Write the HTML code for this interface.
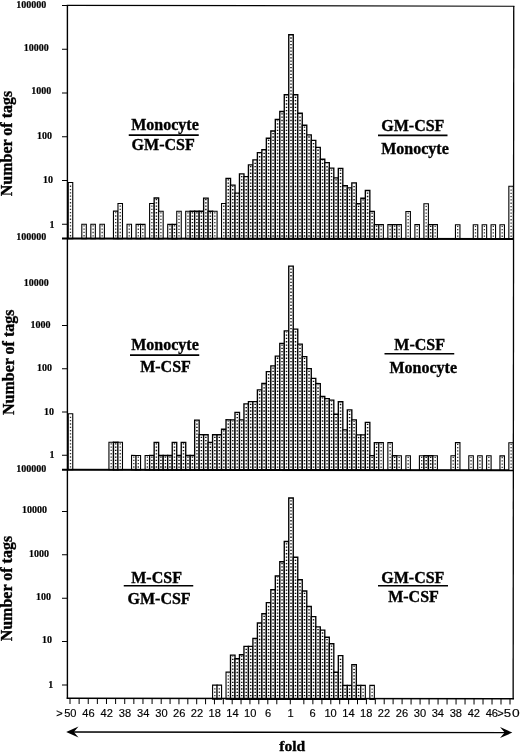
<!DOCTYPE html>
<html><head><meta charset="utf-8"><title>Figure</title>
<style>
html,body{margin:0;padding:0;background:#fff;}
body{width:520px;height:752px;position:relative;overflow:hidden;font-family:"Liberation Serif",serif;}
</style></head><body>
<svg width="520" height="752" viewBox="0 0 520 752" style="position:absolute;left:0;top:0;will-change:transform;opacity:0.999">
<rect x="0" y="0" width="520" height="752" fill="#fff"/>
<g transform="matrix(1,0.0011,0,1,0,-0.07)">
<rect x="68.25" y="182.50" width="4.500" height="56.10" fill="#fff" stroke="#000" stroke-width="1.1"/>
<line x1="70.50" y1="236.40" x2="70.50" y2="183.50" stroke="#333" stroke-width="1.3" stroke-dasharray="1.3 2.0"/>
<rect x="81.81" y="224.25" width="4.500" height="14.35" fill="#fff" stroke="#000" stroke-width="1.1"/>
<line x1="84.06" y1="236.40" x2="84.06" y2="225.25" stroke="#333" stroke-width="1.3" stroke-dasharray="1.3 2.0"/>
<rect x="90.85" y="224.25" width="4.500" height="14.35" fill="#fff" stroke="#000" stroke-width="1.1"/>
<line x1="93.10" y1="236.40" x2="93.10" y2="225.25" stroke="#333" stroke-width="1.3" stroke-dasharray="1.3 2.0"/>
<rect x="99.90" y="224.25" width="4.500" height="14.35" fill="#fff" stroke="#000" stroke-width="1.1"/>
<line x1="102.15" y1="236.40" x2="102.15" y2="225.25" stroke="#333" stroke-width="1.3" stroke-dasharray="1.3 2.0"/>
<rect x="113.46" y="211.08" width="4.500" height="27.52" fill="#fff" stroke="#000" stroke-width="1.1"/>
<line x1="115.71" y1="236.40" x2="115.71" y2="212.08" stroke="#333" stroke-width="1.3" stroke-dasharray="1.3 2.0"/>
<rect x="117.98" y="203.38" width="4.500" height="35.22" fill="#fff" stroke="#000" stroke-width="1.1"/>
<line x1="120.23" y1="236.40" x2="120.23" y2="204.38" stroke="#333" stroke-width="1.3" stroke-dasharray="1.3 2.0"/>
<rect x="127.02" y="224.25" width="4.500" height="14.35" fill="#fff" stroke="#000" stroke-width="1.1"/>
<line x1="129.27" y1="236.40" x2="129.27" y2="225.25" stroke="#333" stroke-width="1.3" stroke-dasharray="1.3 2.0"/>
<rect x="136.06" y="224.25" width="4.500" height="14.35" fill="#fff" stroke="#000" stroke-width="1.1"/>
<line x1="138.31" y1="236.40" x2="138.31" y2="225.25" stroke="#333" stroke-width="1.3" stroke-dasharray="1.3 2.0"/>
<rect x="140.58" y="224.25" width="4.500" height="14.35" fill="#fff" stroke="#000" stroke-width="1.1"/>
<line x1="142.83" y1="236.40" x2="142.83" y2="225.25" stroke="#333" stroke-width="1.3" stroke-dasharray="1.3 2.0"/>
<rect x="149.62" y="203.38" width="4.500" height="35.22" fill="#fff" stroke="#000" stroke-width="1.1"/>
<line x1="151.88" y1="236.40" x2="151.88" y2="204.38" stroke="#333" stroke-width="1.3" stroke-dasharray="1.3 2.0"/>
<rect x="154.15" y="197.91" width="4.500" height="40.69" fill="#fff" stroke="#000" stroke-width="1.35"/>
<line x1="156.40" y1="236.40" x2="156.40" y2="198.91" stroke="#111" stroke-width="1.5" stroke-dasharray="1.3 2.0"/>
<rect x="158.67" y="211.08" width="4.500" height="27.52" fill="#fff" stroke="#000" stroke-width="1.1"/>
<line x1="160.92" y1="236.40" x2="160.92" y2="212.08" stroke="#333" stroke-width="1.3" stroke-dasharray="1.3 2.0"/>
<rect x="167.71" y="224.25" width="4.500" height="14.35" fill="#fff" stroke="#000" stroke-width="1.1"/>
<line x1="169.96" y1="236.40" x2="169.96" y2="225.25" stroke="#333" stroke-width="1.3" stroke-dasharray="1.3 2.0"/>
<rect x="172.23" y="224.25" width="4.500" height="14.35" fill="#fff" stroke="#000" stroke-width="1.35"/>
<line x1="174.48" y1="236.40" x2="174.48" y2="225.25" stroke="#111" stroke-width="1.5" stroke-dasharray="1.3 2.0"/>
<rect x="176.75" y="211.08" width="4.500" height="27.52" fill="#fff" stroke="#000" stroke-width="1.1"/>
<line x1="179.00" y1="236.40" x2="179.00" y2="212.08" stroke="#333" stroke-width="1.3" stroke-dasharray="1.3 2.0"/>
<rect x="185.71" y="211.08" width="4.500" height="27.52" fill="#fff" stroke="#000" stroke-width="1.1"/>
<line x1="187.96" y1="236.40" x2="187.96" y2="212.08" stroke="#333" stroke-width="1.3" stroke-dasharray="1.3 2.0"/>
<rect x="190.19" y="211.08" width="4.500" height="27.52" fill="#fff" stroke="#000" stroke-width="1.35"/>
<line x1="192.44" y1="236.40" x2="192.44" y2="212.08" stroke="#111" stroke-width="1.5" stroke-dasharray="1.3 2.0"/>
<rect x="194.67" y="211.08" width="4.500" height="27.52" fill="#fff" stroke="#000" stroke-width="1.35"/>
<line x1="196.92" y1="236.40" x2="196.92" y2="212.08" stroke="#111" stroke-width="1.5" stroke-dasharray="1.3 2.0"/>
<rect x="199.15" y="211.08" width="4.500" height="27.52" fill="#fff" stroke="#000" stroke-width="1.35"/>
<line x1="201.40" y1="236.40" x2="201.40" y2="212.08" stroke="#111" stroke-width="1.5" stroke-dasharray="1.3 2.0"/>
<rect x="203.63" y="197.91" width="4.500" height="40.69" fill="#fff" stroke="#000" stroke-width="1.35"/>
<line x1="205.88" y1="236.40" x2="205.88" y2="198.91" stroke="#111" stroke-width="1.5" stroke-dasharray="1.3 2.0"/>
<rect x="208.11" y="211.08" width="4.500" height="27.52" fill="#fff" stroke="#000" stroke-width="1.35"/>
<line x1="210.36" y1="236.40" x2="210.36" y2="212.08" stroke="#111" stroke-width="1.5" stroke-dasharray="1.3 2.0"/>
<rect x="212.59" y="211.08" width="4.500" height="27.52" fill="#fff" stroke="#000" stroke-width="1.1"/>
<line x1="214.84" y1="236.40" x2="214.84" y2="212.08" stroke="#333" stroke-width="1.3" stroke-dasharray="1.3 2.0"/>
<rect x="221.55" y="203.38" width="4.500" height="35.22" fill="#fff" stroke="#000" stroke-width="1.1"/>
<line x1="223.80" y1="236.40" x2="223.80" y2="204.38" stroke="#333" stroke-width="1.3" stroke-dasharray="1.3 2.0"/>
<rect x="226.03" y="178.18" width="4.500" height="60.42" fill="#fff" stroke="#000" stroke-width="1.35"/>
<line x1="228.28" y1="236.40" x2="228.28" y2="179.18" stroke="#111" stroke-width="1.5" stroke-dasharray="1.3 2.0"/>
<rect x="230.51" y="184.98" width="4.500" height="53.62" fill="#fff" stroke="#000" stroke-width="1.35"/>
<line x1="232.76" y1="236.40" x2="232.76" y2="185.98" stroke="#111" stroke-width="1.5" stroke-dasharray="1.3 2.0"/>
<rect x="234.99" y="192.92" width="4.500" height="45.68" fill="#fff" stroke="#000" stroke-width="1.35"/>
<line x1="237.24" y1="236.40" x2="237.24" y2="193.92" stroke="#111" stroke-width="1.5" stroke-dasharray="1.3 2.0"/>
<rect x="239.47" y="173.70" width="4.500" height="64.90" fill="#fff" stroke="#000" stroke-width="1.35"/>
<line x1="241.72" y1="236.40" x2="241.72" y2="174.70" stroke="#111" stroke-width="1.5" stroke-dasharray="1.3 2.0"/>
<rect x="243.95" y="176.41" width="4.500" height="62.19" fill="#fff" stroke="#000" stroke-width="1.35"/>
<line x1="246.20" y1="236.40" x2="246.20" y2="177.41" stroke="#111" stroke-width="1.5" stroke-dasharray="1.3 2.0"/>
<rect x="248.43" y="164.67" width="4.500" height="73.93" fill="#fff" stroke="#000" stroke-width="1.35"/>
<line x1="250.68" y1="236.40" x2="250.68" y2="165.67" stroke="#111" stroke-width="1.5" stroke-dasharray="1.3 2.0"/>
<rect x="252.91" y="159.63" width="4.500" height="78.97" fill="#fff" stroke="#000" stroke-width="1.35"/>
<line x1="255.16" y1="236.40" x2="255.16" y2="160.63" stroke="#111" stroke-width="1.5" stroke-dasharray="1.3 2.0"/>
<rect x="257.39" y="152.48" width="4.500" height="86.12" fill="#fff" stroke="#000" stroke-width="1.35"/>
<line x1="259.64" y1="236.40" x2="259.64" y2="153.48" stroke="#111" stroke-width="1.5" stroke-dasharray="1.3 2.0"/>
<rect x="261.87" y="149.54" width="4.500" height="89.06" fill="#fff" stroke="#000" stroke-width="1.35"/>
<line x1="264.12" y1="236.40" x2="264.12" y2="150.54" stroke="#111" stroke-width="1.5" stroke-dasharray="1.3 2.0"/>
<rect x="266.35" y="138.03" width="4.500" height="100.57" fill="#fff" stroke="#000" stroke-width="1.35"/>
<line x1="268.60" y1="236.40" x2="268.60" y2="139.03" stroke="#111" stroke-width="1.5" stroke-dasharray="1.3 2.0"/>
<rect x="270.83" y="130.77" width="4.500" height="107.83" fill="#fff" stroke="#000" stroke-width="1.35"/>
<line x1="273.08" y1="236.40" x2="273.08" y2="131.77" stroke="#111" stroke-width="1.5" stroke-dasharray="1.3 2.0"/>
<rect x="275.31" y="119.26" width="4.500" height="119.34" fill="#fff" stroke="#000" stroke-width="1.35"/>
<line x1="277.56" y1="236.40" x2="277.56" y2="120.26" stroke="#111" stroke-width="1.5" stroke-dasharray="1.3 2.0"/>
<rect x="279.79" y="111.28" width="4.500" height="127.32" fill="#fff" stroke="#000" stroke-width="1.35"/>
<line x1="282.04" y1="236.40" x2="282.04" y2="112.28" stroke="#111" stroke-width="1.5" stroke-dasharray="1.3 2.0"/>
<rect x="284.27" y="94.52" width="4.500" height="144.08" fill="#fff" stroke="#000" stroke-width="1.35"/>
<line x1="286.52" y1="236.40" x2="286.52" y2="95.52" stroke="#111" stroke-width="1.5" stroke-dasharray="1.3 2.0"/>
<rect x="288.75" y="34.53" width="4.500" height="204.07" fill="#fff" stroke="#000" stroke-width="1.35"/>
<line x1="291.00" y1="236.40" x2="291.00" y2="35.53" stroke="#111" stroke-width="1.5" stroke-dasharray="1.3 2.0"/>
<rect x="293.26" y="94.52" width="4.500" height="144.08" fill="#fff" stroke="#000" stroke-width="1.35"/>
<line x1="295.51" y1="236.40" x2="295.51" y2="95.52" stroke="#111" stroke-width="1.5" stroke-dasharray="1.3 2.0"/>
<rect x="297.76" y="113.00" width="4.500" height="125.60" fill="#fff" stroke="#000" stroke-width="1.35"/>
<line x1="300.01" y1="236.40" x2="300.01" y2="114.00" stroke="#111" stroke-width="1.5" stroke-dasharray="1.3 2.0"/>
<rect x="302.27" y="124.96" width="4.500" height="113.64" fill="#fff" stroke="#000" stroke-width="1.35"/>
<line x1="304.52" y1="236.40" x2="304.52" y2="125.96" stroke="#111" stroke-width="1.5" stroke-dasharray="1.3 2.0"/>
<rect x="306.77" y="134.60" width="4.500" height="104.00" fill="#fff" stroke="#000" stroke-width="1.35"/>
<line x1="309.02" y1="236.40" x2="309.02" y2="135.60" stroke="#111" stroke-width="1.5" stroke-dasharray="1.3 2.0"/>
<rect x="311.28" y="140.06" width="4.500" height="98.54" fill="#fff" stroke="#000" stroke-width="1.35"/>
<line x1="313.53" y1="236.40" x2="313.53" y2="141.06" stroke="#111" stroke-width="1.5" stroke-dasharray="1.3 2.0"/>
<rect x="315.78" y="147.10" width="4.500" height="91.50" fill="#fff" stroke="#000" stroke-width="1.35"/>
<line x1="318.03" y1="236.40" x2="318.03" y2="148.10" stroke="#111" stroke-width="1.5" stroke-dasharray="1.3 2.0"/>
<rect x="320.29" y="159.00" width="4.500" height="79.60" fill="#fff" stroke="#000" stroke-width="1.35"/>
<line x1="322.54" y1="236.40" x2="322.54" y2="160.00" stroke="#111" stroke-width="1.5" stroke-dasharray="1.3 2.0"/>
<rect x="324.79" y="162.34" width="4.500" height="76.26" fill="#fff" stroke="#000" stroke-width="1.35"/>
<line x1="327.04" y1="236.40" x2="327.04" y2="163.34" stroke="#111" stroke-width="1.5" stroke-dasharray="1.3 2.0"/>
<rect x="329.30" y="167.81" width="4.500" height="70.79" fill="#fff" stroke="#000" stroke-width="1.35"/>
<line x1="331.55" y1="236.40" x2="331.55" y2="168.81" stroke="#111" stroke-width="1.5" stroke-dasharray="1.3 2.0"/>
<rect x="333.80" y="177.52" width="4.500" height="61.08" fill="#fff" stroke="#000" stroke-width="1.35"/>
<line x1="336.05" y1="236.40" x2="336.05" y2="178.52" stroke="#111" stroke-width="1.5" stroke-dasharray="1.3 2.0"/>
<rect x="338.31" y="168.01" width="4.500" height="70.59" fill="#fff" stroke="#000" stroke-width="1.35"/>
<line x1="340.56" y1="236.40" x2="340.56" y2="169.01" stroke="#111" stroke-width="1.5" stroke-dasharray="1.3 2.0"/>
<rect x="342.81" y="185.47" width="4.500" height="53.13" fill="#fff" stroke="#000" stroke-width="1.35"/>
<line x1="345.06" y1="236.40" x2="345.06" y2="186.47" stroke="#111" stroke-width="1.5" stroke-dasharray="1.3 2.0"/>
<rect x="347.32" y="187.55" width="4.500" height="51.05" fill="#fff" stroke="#000" stroke-width="1.35"/>
<line x1="349.57" y1="236.40" x2="349.57" y2="188.55" stroke="#111" stroke-width="1.5" stroke-dasharray="1.3 2.0"/>
<rect x="351.83" y="182.50" width="4.500" height="56.10" fill="#fff" stroke="#000" stroke-width="1.35"/>
<line x1="354.08" y1="236.40" x2="354.08" y2="183.50" stroke="#111" stroke-width="1.5" stroke-dasharray="1.3 2.0"/>
<rect x="356.33" y="203.38" width="4.500" height="35.22" fill="#fff" stroke="#000" stroke-width="1.35"/>
<line x1="358.58" y1="236.40" x2="358.58" y2="204.38" stroke="#111" stroke-width="1.5" stroke-dasharray="1.3 2.0"/>
<rect x="360.84" y="197.91" width="4.500" height="40.69" fill="#fff" stroke="#000" stroke-width="1.35"/>
<line x1="363.09" y1="236.40" x2="363.09" y2="198.91" stroke="#111" stroke-width="1.5" stroke-dasharray="1.3 2.0"/>
<rect x="365.34" y="190.21" width="4.500" height="48.39" fill="#fff" stroke="#000" stroke-width="1.35"/>
<line x1="367.59" y1="236.40" x2="367.59" y2="191.21" stroke="#111" stroke-width="1.5" stroke-dasharray="1.3 2.0"/>
<rect x="369.85" y="211.08" width="4.500" height="27.52" fill="#fff" stroke="#000" stroke-width="1.35"/>
<line x1="372.10" y1="236.40" x2="372.10" y2="212.08" stroke="#111" stroke-width="1.5" stroke-dasharray="1.3 2.0"/>
<rect x="374.35" y="224.25" width="4.500" height="14.35" fill="#fff" stroke="#000" stroke-width="1.35"/>
<line x1="376.60" y1="236.40" x2="376.60" y2="225.25" stroke="#111" stroke-width="1.5" stroke-dasharray="1.3 2.0"/>
<rect x="378.86" y="224.25" width="4.500" height="14.35" fill="#fff" stroke="#000" stroke-width="1.1"/>
<line x1="381.11" y1="236.40" x2="381.11" y2="225.25" stroke="#333" stroke-width="1.3" stroke-dasharray="1.3 2.0"/>
<rect x="387.87" y="224.25" width="4.500" height="14.35" fill="#fff" stroke="#000" stroke-width="1.1"/>
<line x1="390.12" y1="236.40" x2="390.12" y2="225.25" stroke="#333" stroke-width="1.3" stroke-dasharray="1.3 2.0"/>
<rect x="392.37" y="224.25" width="4.500" height="14.35" fill="#fff" stroke="#000" stroke-width="1.35"/>
<line x1="394.62" y1="236.40" x2="394.62" y2="225.25" stroke="#111" stroke-width="1.5" stroke-dasharray="1.3 2.0"/>
<rect x="396.88" y="224.25" width="4.500" height="14.35" fill="#fff" stroke="#000" stroke-width="1.1"/>
<line x1="399.13" y1="236.40" x2="399.13" y2="225.25" stroke="#333" stroke-width="1.3" stroke-dasharray="1.3 2.0"/>
<rect x="405.89" y="211.08" width="4.500" height="27.52" fill="#fff" stroke="#000" stroke-width="1.1"/>
<line x1="408.14" y1="236.40" x2="408.14" y2="212.08" stroke="#333" stroke-width="1.3" stroke-dasharray="1.3 2.0"/>
<rect x="414.90" y="224.25" width="4.500" height="14.35" fill="#fff" stroke="#000" stroke-width="1.1"/>
<line x1="417.15" y1="236.40" x2="417.15" y2="225.25" stroke="#333" stroke-width="1.3" stroke-dasharray="1.3 2.0"/>
<rect x="423.91" y="203.38" width="4.500" height="35.22" fill="#fff" stroke="#000" stroke-width="1.1"/>
<line x1="426.16" y1="236.40" x2="426.16" y2="204.38" stroke="#333" stroke-width="1.3" stroke-dasharray="1.3 2.0"/>
<rect x="428.42" y="224.25" width="4.500" height="14.35" fill="#fff" stroke="#000" stroke-width="1.35"/>
<line x1="430.67" y1="236.40" x2="430.67" y2="225.25" stroke="#111" stroke-width="1.5" stroke-dasharray="1.3 2.0"/>
<rect x="432.92" y="224.25" width="4.500" height="14.35" fill="#fff" stroke="#000" stroke-width="1.1"/>
<line x1="435.17" y1="236.40" x2="435.17" y2="225.25" stroke="#333" stroke-width="1.3" stroke-dasharray="1.3 2.0"/>
<rect x="455.45" y="224.25" width="4.500" height="14.35" fill="#fff" stroke="#000" stroke-width="1.1"/>
<line x1="457.70" y1="236.40" x2="457.70" y2="225.25" stroke="#333" stroke-width="1.3" stroke-dasharray="1.3 2.0"/>
<rect x="473.25" y="224.25" width="4.500" height="14.35" fill="#fff" stroke="#000" stroke-width="1.1"/>
<line x1="475.50" y1="236.40" x2="475.50" y2="225.25" stroke="#333" stroke-width="1.3" stroke-dasharray="1.3 2.0"/>
<rect x="482.15" y="224.25" width="4.500" height="14.35" fill="#fff" stroke="#000" stroke-width="1.1"/>
<line x1="484.40" y1="236.40" x2="484.40" y2="225.25" stroke="#333" stroke-width="1.3" stroke-dasharray="1.3 2.0"/>
<rect x="491.05" y="224.25" width="4.500" height="14.35" fill="#fff" stroke="#000" stroke-width="1.1"/>
<line x1="493.30" y1="236.40" x2="493.30" y2="225.25" stroke="#333" stroke-width="1.3" stroke-dasharray="1.3 2.0"/>
<rect x="499.95" y="224.25" width="4.500" height="14.35" fill="#fff" stroke="#000" stroke-width="1.1"/>
<line x1="502.20" y1="236.40" x2="502.20" y2="225.25" stroke="#333" stroke-width="1.3" stroke-dasharray="1.3 2.0"/>
<rect x="508.85" y="185.71" width="4.500" height="52.89" fill="#fff" stroke="#000" stroke-width="1.1"/>
<line x1="511.10" y1="236.40" x2="511.10" y2="186.71" stroke="#333" stroke-width="1.3" stroke-dasharray="1.3 2.0"/>
<rect x="68.25" y="413.75" width="4.500" height="56.00" fill="#fff" stroke="#000" stroke-width="1.1"/>
<line x1="70.50" y1="467.55" x2="70.50" y2="414.75" stroke="#333" stroke-width="1.3" stroke-dasharray="1.3 2.0"/>
<rect x="108.94" y="442.23" width="4.500" height="27.52" fill="#fff" stroke="#000" stroke-width="1.1"/>
<line x1="111.19" y1="467.55" x2="111.19" y2="443.23" stroke="#333" stroke-width="1.3" stroke-dasharray="1.3 2.0"/>
<rect x="113.46" y="442.23" width="4.500" height="27.52" fill="#fff" stroke="#000" stroke-width="1.35"/>
<line x1="115.71" y1="467.55" x2="115.71" y2="443.23" stroke="#111" stroke-width="1.5" stroke-dasharray="1.3 2.0"/>
<rect x="117.98" y="442.23" width="4.500" height="27.52" fill="#fff" stroke="#000" stroke-width="1.1"/>
<line x1="120.23" y1="467.55" x2="120.23" y2="443.23" stroke="#333" stroke-width="1.3" stroke-dasharray="1.3 2.0"/>
<rect x="131.54" y="455.35" width="4.500" height="14.40" fill="#fff" stroke="#000" stroke-width="1.1"/>
<line x1="133.79" y1="467.55" x2="133.79" y2="456.35" stroke="#333" stroke-width="1.3" stroke-dasharray="1.3 2.0"/>
<rect x="136.06" y="455.35" width="4.500" height="14.40" fill="#fff" stroke="#000" stroke-width="1.1"/>
<line x1="138.31" y1="467.55" x2="138.31" y2="456.35" stroke="#333" stroke-width="1.3" stroke-dasharray="1.3 2.0"/>
<rect x="145.10" y="455.35" width="4.500" height="14.40" fill="#fff" stroke="#000" stroke-width="1.1"/>
<line x1="147.35" y1="467.55" x2="147.35" y2="456.35" stroke="#333" stroke-width="1.3" stroke-dasharray="1.3 2.0"/>
<rect x="149.62" y="455.35" width="4.500" height="14.40" fill="#fff" stroke="#000" stroke-width="1.35"/>
<line x1="151.88" y1="467.55" x2="151.88" y2="456.35" stroke="#111" stroke-width="1.5" stroke-dasharray="1.3 2.0"/>
<rect x="154.15" y="442.23" width="4.500" height="27.52" fill="#fff" stroke="#000" stroke-width="1.35"/>
<line x1="156.40" y1="467.55" x2="156.40" y2="443.23" stroke="#111" stroke-width="1.5" stroke-dasharray="1.3 2.0"/>
<rect x="158.67" y="455.35" width="4.500" height="14.40" fill="#fff" stroke="#000" stroke-width="1.35"/>
<line x1="160.92" y1="467.55" x2="160.92" y2="456.35" stroke="#111" stroke-width="1.5" stroke-dasharray="1.3 2.0"/>
<rect x="163.19" y="455.35" width="4.500" height="14.40" fill="#fff" stroke="#000" stroke-width="1.35"/>
<line x1="165.44" y1="467.55" x2="165.44" y2="456.35" stroke="#111" stroke-width="1.5" stroke-dasharray="1.3 2.0"/>
<rect x="167.71" y="455.35" width="4.500" height="14.40" fill="#fff" stroke="#000" stroke-width="1.35"/>
<line x1="169.96" y1="467.55" x2="169.96" y2="456.35" stroke="#111" stroke-width="1.5" stroke-dasharray="1.3 2.0"/>
<rect x="172.23" y="442.23" width="4.500" height="27.52" fill="#fff" stroke="#000" stroke-width="1.35"/>
<line x1="174.48" y1="467.55" x2="174.48" y2="443.23" stroke="#111" stroke-width="1.5" stroke-dasharray="1.3 2.0"/>
<rect x="176.75" y="455.35" width="4.500" height="14.40" fill="#fff" stroke="#000" stroke-width="1.35"/>
<line x1="179.00" y1="467.55" x2="179.00" y2="456.35" stroke="#111" stroke-width="1.5" stroke-dasharray="1.3 2.0"/>
<rect x="181.23" y="442.23" width="4.500" height="27.52" fill="#fff" stroke="#000" stroke-width="1.35"/>
<line x1="183.48" y1="467.55" x2="183.48" y2="443.23" stroke="#111" stroke-width="1.5" stroke-dasharray="1.3 2.0"/>
<rect x="185.71" y="455.35" width="4.500" height="14.40" fill="#fff" stroke="#000" stroke-width="1.35"/>
<line x1="187.96" y1="467.55" x2="187.96" y2="456.35" stroke="#111" stroke-width="1.5" stroke-dasharray="1.3 2.0"/>
<rect x="190.19" y="455.35" width="4.500" height="14.40" fill="#fff" stroke="#000" stroke-width="1.35"/>
<line x1="192.44" y1="467.55" x2="192.44" y2="456.35" stroke="#111" stroke-width="1.5" stroke-dasharray="1.3 2.0"/>
<rect x="194.67" y="419.91" width="4.500" height="49.84" fill="#fff" stroke="#000" stroke-width="1.35"/>
<line x1="196.92" y1="467.55" x2="196.92" y2="420.91" stroke="#111" stroke-width="1.5" stroke-dasharray="1.3 2.0"/>
<rect x="199.15" y="434.55" width="4.500" height="35.20" fill="#fff" stroke="#000" stroke-width="1.35"/>
<line x1="201.40" y1="467.55" x2="201.40" y2="435.55" stroke="#111" stroke-width="1.5" stroke-dasharray="1.3 2.0"/>
<rect x="203.63" y="434.55" width="4.500" height="35.20" fill="#fff" stroke="#000" stroke-width="1.35"/>
<line x1="205.88" y1="467.55" x2="205.88" y2="435.55" stroke="#111" stroke-width="1.5" stroke-dasharray="1.3 2.0"/>
<rect x="208.11" y="442.23" width="4.500" height="27.52" fill="#fff" stroke="#000" stroke-width="1.35"/>
<line x1="210.36" y1="467.55" x2="210.36" y2="443.23" stroke="#111" stroke-width="1.5" stroke-dasharray="1.3 2.0"/>
<rect x="212.59" y="434.55" width="4.500" height="35.20" fill="#fff" stroke="#000" stroke-width="1.35"/>
<line x1="214.84" y1="467.55" x2="214.84" y2="435.55" stroke="#111" stroke-width="1.5" stroke-dasharray="1.3 2.0"/>
<rect x="217.07" y="434.55" width="4.500" height="35.20" fill="#fff" stroke="#000" stroke-width="1.35"/>
<line x1="219.32" y1="467.55" x2="219.32" y2="435.55" stroke="#111" stroke-width="1.5" stroke-dasharray="1.3 2.0"/>
<rect x="221.55" y="429.10" width="4.500" height="40.65" fill="#fff" stroke="#000" stroke-width="1.35"/>
<line x1="223.80" y1="467.55" x2="223.80" y2="430.10" stroke="#111" stroke-width="1.5" stroke-dasharray="1.3 2.0"/>
<rect x="226.03" y="419.62" width="4.500" height="50.13" fill="#fff" stroke="#000" stroke-width="1.35"/>
<line x1="228.28" y1="467.55" x2="228.28" y2="420.62" stroke="#111" stroke-width="1.5" stroke-dasharray="1.3 2.0"/>
<rect x="230.51" y="419.62" width="4.500" height="50.13" fill="#fff" stroke="#000" stroke-width="1.35"/>
<line x1="232.76" y1="467.55" x2="232.76" y2="420.62" stroke="#111" stroke-width="1.5" stroke-dasharray="1.3 2.0"/>
<rect x="234.99" y="412.13" width="4.500" height="57.62" fill="#fff" stroke="#000" stroke-width="1.35"/>
<line x1="237.24" y1="467.55" x2="237.24" y2="413.13" stroke="#111" stroke-width="1.5" stroke-dasharray="1.3 2.0"/>
<rect x="239.47" y="419.62" width="4.500" height="50.13" fill="#fff" stroke="#000" stroke-width="1.35"/>
<line x1="241.72" y1="467.55" x2="241.72" y2="420.62" stroke="#111" stroke-width="1.5" stroke-dasharray="1.3 2.0"/>
<rect x="243.95" y="403.70" width="4.500" height="66.05" fill="#fff" stroke="#000" stroke-width="1.35"/>
<line x1="246.20" y1="467.55" x2="246.20" y2="404.70" stroke="#111" stroke-width="1.5" stroke-dasharray="1.3 2.0"/>
<rect x="248.43" y="401.48" width="4.500" height="68.27" fill="#fff" stroke="#000" stroke-width="1.35"/>
<line x1="250.68" y1="467.55" x2="250.68" y2="402.48" stroke="#111" stroke-width="1.5" stroke-dasharray="1.3 2.0"/>
<rect x="252.91" y="401.48" width="4.500" height="68.27" fill="#fff" stroke="#000" stroke-width="1.35"/>
<line x1="255.16" y1="467.55" x2="255.16" y2="402.48" stroke="#111" stroke-width="1.5" stroke-dasharray="1.3 2.0"/>
<rect x="257.39" y="389.73" width="4.500" height="80.02" fill="#fff" stroke="#000" stroke-width="1.35"/>
<line x1="259.64" y1="467.55" x2="259.64" y2="390.73" stroke="#111" stroke-width="1.5" stroke-dasharray="1.3 2.0"/>
<rect x="261.87" y="383.27" width="4.500" height="86.48" fill="#fff" stroke="#000" stroke-width="1.35"/>
<line x1="264.12" y1="467.55" x2="264.12" y2="384.27" stroke="#111" stroke-width="1.5" stroke-dasharray="1.3 2.0"/>
<rect x="266.35" y="371.34" width="4.500" height="98.41" fill="#fff" stroke="#000" stroke-width="1.35"/>
<line x1="268.60" y1="467.55" x2="268.60" y2="372.34" stroke="#111" stroke-width="1.5" stroke-dasharray="1.3 2.0"/>
<rect x="270.83" y="365.67" width="4.500" height="104.08" fill="#fff" stroke="#000" stroke-width="1.35"/>
<line x1="273.08" y1="467.55" x2="273.08" y2="366.67" stroke="#111" stroke-width="1.5" stroke-dasharray="1.3 2.0"/>
<rect x="275.31" y="355.90" width="4.500" height="113.85" fill="#fff" stroke="#000" stroke-width="1.35"/>
<line x1="277.56" y1="467.55" x2="277.56" y2="356.90" stroke="#111" stroke-width="1.5" stroke-dasharray="1.3 2.0"/>
<rect x="279.79" y="343.12" width="4.500" height="126.63" fill="#fff" stroke="#000" stroke-width="1.35"/>
<line x1="282.04" y1="467.55" x2="282.04" y2="344.12" stroke="#111" stroke-width="1.5" stroke-dasharray="1.3 2.0"/>
<rect x="284.27" y="330.61" width="4.500" height="139.14" fill="#fff" stroke="#000" stroke-width="1.35"/>
<line x1="286.52" y1="467.55" x2="286.52" y2="331.61" stroke="#111" stroke-width="1.5" stroke-dasharray="1.3 2.0"/>
<rect x="288.75" y="265.85" width="4.500" height="203.90" fill="#fff" stroke="#000" stroke-width="1.35"/>
<line x1="291.00" y1="467.55" x2="291.00" y2="266.85" stroke="#111" stroke-width="1.5" stroke-dasharray="1.3 2.0"/>
<rect x="293.26" y="328.87" width="4.500" height="140.88" fill="#fff" stroke="#000" stroke-width="1.35"/>
<line x1="295.51" y1="467.55" x2="295.51" y2="329.87" stroke="#111" stroke-width="1.5" stroke-dasharray="1.3 2.0"/>
<rect x="297.76" y="343.84" width="4.500" height="125.91" fill="#fff" stroke="#000" stroke-width="1.35"/>
<line x1="300.01" y1="467.55" x2="300.01" y2="344.84" stroke="#111" stroke-width="1.5" stroke-dasharray="1.3 2.0"/>
<rect x="302.27" y="356.40" width="4.500" height="113.35" fill="#fff" stroke="#000" stroke-width="1.35"/>
<line x1="304.52" y1="467.55" x2="304.52" y2="357.40" stroke="#111" stroke-width="1.5" stroke-dasharray="1.3 2.0"/>
<rect x="306.77" y="368.34" width="4.500" height="101.41" fill="#fff" stroke="#000" stroke-width="1.35"/>
<line x1="309.02" y1="467.55" x2="309.02" y2="369.34" stroke="#111" stroke-width="1.5" stroke-dasharray="1.3 2.0"/>
<rect x="311.28" y="378.14" width="4.500" height="91.61" fill="#fff" stroke="#000" stroke-width="1.35"/>
<line x1="313.53" y1="467.55" x2="313.53" y2="379.14" stroke="#111" stroke-width="1.5" stroke-dasharray="1.3 2.0"/>
<rect x="315.78" y="383.27" width="4.500" height="86.48" fill="#fff" stroke="#000" stroke-width="1.35"/>
<line x1="318.03" y1="467.55" x2="318.03" y2="384.27" stroke="#111" stroke-width="1.5" stroke-dasharray="1.3 2.0"/>
<rect x="320.29" y="396.23" width="4.500" height="73.52" fill="#fff" stroke="#000" stroke-width="1.35"/>
<line x1="322.54" y1="467.55" x2="322.54" y2="397.23" stroke="#111" stroke-width="1.5" stroke-dasharray="1.3 2.0"/>
<rect x="324.79" y="398.34" width="4.500" height="71.41" fill="#fff" stroke="#000" stroke-width="1.35"/>
<line x1="327.04" y1="467.55" x2="327.04" y2="399.34" stroke="#111" stroke-width="1.5" stroke-dasharray="1.3 2.0"/>
<rect x="329.30" y="399.90" width="4.500" height="69.85" fill="#fff" stroke="#000" stroke-width="1.35"/>
<line x1="331.55" y1="467.55" x2="331.55" y2="400.90" stroke="#111" stroke-width="1.5" stroke-dasharray="1.3 2.0"/>
<rect x="333.80" y="413.96" width="4.500" height="55.79" fill="#fff" stroke="#000" stroke-width="1.35"/>
<line x1="336.05" y1="467.55" x2="336.05" y2="414.96" stroke="#111" stroke-width="1.5" stroke-dasharray="1.3 2.0"/>
<rect x="338.31" y="401.48" width="4.500" height="68.27" fill="#fff" stroke="#000" stroke-width="1.35"/>
<line x1="340.56" y1="467.55" x2="340.56" y2="402.48" stroke="#111" stroke-width="1.5" stroke-dasharray="1.3 2.0"/>
<rect x="342.81" y="429.58" width="4.500" height="40.17" fill="#fff" stroke="#000" stroke-width="1.35"/>
<line x1="345.06" y1="467.55" x2="345.06" y2="430.58" stroke="#111" stroke-width="1.5" stroke-dasharray="1.3 2.0"/>
<rect x="347.32" y="409.60" width="4.500" height="60.15" fill="#fff" stroke="#000" stroke-width="1.35"/>
<line x1="349.57" y1="467.55" x2="349.57" y2="410.60" stroke="#111" stroke-width="1.5" stroke-dasharray="1.3 2.0"/>
<rect x="351.83" y="419.62" width="4.500" height="50.13" fill="#fff" stroke="#000" stroke-width="1.35"/>
<line x1="354.08" y1="467.55" x2="354.08" y2="420.62" stroke="#111" stroke-width="1.5" stroke-dasharray="1.3 2.0"/>
<rect x="356.33" y="434.55" width="4.500" height="35.20" fill="#fff" stroke="#000" stroke-width="1.35"/>
<line x1="358.58" y1="467.55" x2="358.58" y2="435.55" stroke="#111" stroke-width="1.5" stroke-dasharray="1.3 2.0"/>
<rect x="360.84" y="434.55" width="4.500" height="35.20" fill="#fff" stroke="#000" stroke-width="1.35"/>
<line x1="363.09" y1="467.55" x2="363.09" y2="435.55" stroke="#111" stroke-width="1.5" stroke-dasharray="1.3 2.0"/>
<rect x="365.34" y="422.06" width="4.500" height="47.69" fill="#fff" stroke="#000" stroke-width="1.35"/>
<line x1="367.59" y1="467.55" x2="367.59" y2="423.06" stroke="#111" stroke-width="1.5" stroke-dasharray="1.3 2.0"/>
<rect x="369.85" y="455.35" width="4.500" height="14.40" fill="#fff" stroke="#000" stroke-width="1.35"/>
<line x1="372.10" y1="467.55" x2="372.10" y2="456.35" stroke="#111" stroke-width="1.5" stroke-dasharray="1.3 2.0"/>
<rect x="374.35" y="442.23" width="4.500" height="27.52" fill="#fff" stroke="#000" stroke-width="1.35"/>
<line x1="376.60" y1="467.55" x2="376.60" y2="443.23" stroke="#111" stroke-width="1.5" stroke-dasharray="1.3 2.0"/>
<rect x="378.86" y="442.23" width="4.500" height="27.52" fill="#fff" stroke="#000" stroke-width="1.1"/>
<line x1="381.11" y1="467.55" x2="381.11" y2="443.23" stroke="#333" stroke-width="1.3" stroke-dasharray="1.3 2.0"/>
<rect x="387.87" y="442.23" width="4.500" height="27.52" fill="#fff" stroke="#000" stroke-width="1.1"/>
<line x1="390.12" y1="467.55" x2="390.12" y2="443.23" stroke="#333" stroke-width="1.3" stroke-dasharray="1.3 2.0"/>
<rect x="392.37" y="455.35" width="4.500" height="14.40" fill="#fff" stroke="#000" stroke-width="1.35"/>
<line x1="394.62" y1="467.55" x2="394.62" y2="456.35" stroke="#111" stroke-width="1.5" stroke-dasharray="1.3 2.0"/>
<rect x="396.88" y="455.35" width="4.500" height="14.40" fill="#fff" stroke="#000" stroke-width="1.1"/>
<line x1="399.13" y1="467.55" x2="399.13" y2="456.35" stroke="#333" stroke-width="1.3" stroke-dasharray="1.3 2.0"/>
<rect x="405.89" y="455.35" width="4.500" height="14.40" fill="#fff" stroke="#000" stroke-width="1.1"/>
<line x1="408.14" y1="467.55" x2="408.14" y2="456.35" stroke="#333" stroke-width="1.3" stroke-dasharray="1.3 2.0"/>
<rect x="419.41" y="455.35" width="4.500" height="14.40" fill="#fff" stroke="#000" stroke-width="1.1"/>
<line x1="421.66" y1="467.55" x2="421.66" y2="456.35" stroke="#333" stroke-width="1.3" stroke-dasharray="1.3 2.0"/>
<rect x="423.91" y="455.35" width="4.500" height="14.40" fill="#fff" stroke="#000" stroke-width="1.35"/>
<line x1="426.16" y1="467.55" x2="426.16" y2="456.35" stroke="#111" stroke-width="1.5" stroke-dasharray="1.3 2.0"/>
<rect x="428.42" y="455.35" width="4.500" height="14.40" fill="#fff" stroke="#000" stroke-width="1.35"/>
<line x1="430.67" y1="467.55" x2="430.67" y2="456.35" stroke="#111" stroke-width="1.5" stroke-dasharray="1.3 2.0"/>
<rect x="432.92" y="455.35" width="4.500" height="14.40" fill="#fff" stroke="#000" stroke-width="1.1"/>
<line x1="435.17" y1="467.55" x2="435.17" y2="456.35" stroke="#333" stroke-width="1.3" stroke-dasharray="1.3 2.0"/>
<rect x="450.94" y="455.35" width="4.500" height="14.40" fill="#fff" stroke="#000" stroke-width="1.1"/>
<line x1="453.19" y1="467.55" x2="453.19" y2="456.35" stroke="#333" stroke-width="1.3" stroke-dasharray="1.3 2.0"/>
<rect x="455.45" y="442.23" width="4.500" height="27.52" fill="#fff" stroke="#000" stroke-width="1.1"/>
<line x1="457.70" y1="467.55" x2="457.70" y2="443.23" stroke="#333" stroke-width="1.3" stroke-dasharray="1.3 2.0"/>
<rect x="468.80" y="455.35" width="4.500" height="14.40" fill="#fff" stroke="#000" stroke-width="1.1"/>
<line x1="471.05" y1="467.55" x2="471.05" y2="456.35" stroke="#333" stroke-width="1.3" stroke-dasharray="1.3 2.0"/>
<rect x="477.70" y="455.35" width="4.500" height="14.40" fill="#fff" stroke="#000" stroke-width="1.1"/>
<line x1="479.95" y1="467.55" x2="479.95" y2="456.35" stroke="#333" stroke-width="1.3" stroke-dasharray="1.3 2.0"/>
<rect x="486.60" y="455.35" width="4.500" height="14.40" fill="#fff" stroke="#000" stroke-width="1.1"/>
<line x1="488.85" y1="467.55" x2="488.85" y2="456.35" stroke="#333" stroke-width="1.3" stroke-dasharray="1.3 2.0"/>
<rect x="499.95" y="455.35" width="4.500" height="14.40" fill="#fff" stroke="#000" stroke-width="1.1"/>
<line x1="502.20" y1="467.55" x2="502.20" y2="456.35" stroke="#333" stroke-width="1.3" stroke-dasharray="1.3 2.0"/>
<rect x="508.85" y="442.23" width="4.500" height="27.52" fill="#fff" stroke="#000" stroke-width="1.1"/>
<line x1="511.10" y1="467.55" x2="511.10" y2="443.23" stroke="#333" stroke-width="1.3" stroke-dasharray="1.3 2.0"/>
<rect x="212.59" y="685.00" width="4.500" height="14.05" fill="#fff" stroke="#000" stroke-width="1.1"/>
<line x1="214.84" y1="696.05" x2="214.84" y2="686.00" stroke="#333" stroke-width="1.3" stroke-dasharray="1.3 2.0"/>
<rect x="217.07" y="685.00" width="4.500" height="14.05" fill="#fff" stroke="#000" stroke-width="1.1"/>
<line x1="219.32" y1="696.05" x2="219.32" y2="686.00" stroke="#333" stroke-width="1.3" stroke-dasharray="1.3 2.0"/>
<rect x="226.03" y="671.91" width="4.500" height="27.14" fill="#fff" stroke="#000" stroke-width="1.1"/>
<line x1="228.28" y1="696.05" x2="228.28" y2="672.91" stroke="#333" stroke-width="1.3" stroke-dasharray="1.3 2.0"/>
<rect x="230.51" y="654.98" width="4.500" height="44.07" fill="#fff" stroke="#000" stroke-width="1.35"/>
<line x1="232.76" y1="696.05" x2="232.76" y2="655.98" stroke="#111" stroke-width="1.5" stroke-dasharray="1.3 2.0"/>
<rect x="234.99" y="658.58" width="4.500" height="40.47" fill="#fff" stroke="#000" stroke-width="1.35"/>
<line x1="237.24" y1="696.05" x2="237.24" y2="659.58" stroke="#111" stroke-width="1.5" stroke-dasharray="1.3 2.0"/>
<rect x="239.47" y="654.59" width="4.500" height="44.46" fill="#fff" stroke="#000" stroke-width="1.35"/>
<line x1="241.72" y1="696.05" x2="241.72" y2="655.59" stroke="#111" stroke-width="1.5" stroke-dasharray="1.3 2.0"/>
<rect x="243.95" y="646.19" width="4.500" height="52.86" fill="#fff" stroke="#000" stroke-width="1.35"/>
<line x1="246.20" y1="696.05" x2="246.20" y2="647.19" stroke="#111" stroke-width="1.5" stroke-dasharray="1.3 2.0"/>
<rect x="248.43" y="646.19" width="4.500" height="52.86" fill="#fff" stroke="#000" stroke-width="1.35"/>
<line x1="250.68" y1="696.05" x2="250.68" y2="647.19" stroke="#111" stroke-width="1.5" stroke-dasharray="1.3 2.0"/>
<rect x="252.91" y="638.21" width="4.500" height="60.84" fill="#fff" stroke="#000" stroke-width="1.35"/>
<line x1="255.16" y1="696.05" x2="255.16" y2="639.21" stroke="#111" stroke-width="1.5" stroke-dasharray="1.3 2.0"/>
<rect x="257.39" y="622.74" width="4.500" height="76.31" fill="#fff" stroke="#000" stroke-width="1.35"/>
<line x1="259.64" y1="696.05" x2="259.64" y2="623.74" stroke="#111" stroke-width="1.5" stroke-dasharray="1.3 2.0"/>
<rect x="261.87" y="613.51" width="4.500" height="85.54" fill="#fff" stroke="#000" stroke-width="1.35"/>
<line x1="264.12" y1="696.05" x2="264.12" y2="614.51" stroke="#111" stroke-width="1.5" stroke-dasharray="1.3 2.0"/>
<rect x="266.35" y="602.45" width="4.500" height="96.60" fill="#fff" stroke="#000" stroke-width="1.35"/>
<line x1="268.60" y1="696.05" x2="268.60" y2="603.45" stroke="#111" stroke-width="1.5" stroke-dasharray="1.3 2.0"/>
<rect x="270.83" y="589.48" width="4.500" height="109.57" fill="#fff" stroke="#000" stroke-width="1.35"/>
<line x1="273.08" y1="696.05" x2="273.08" y2="590.48" stroke="#111" stroke-width="1.5" stroke-dasharray="1.3 2.0"/>
<rect x="275.31" y="575.73" width="4.500" height="123.32" fill="#fff" stroke="#000" stroke-width="1.35"/>
<line x1="277.56" y1="696.05" x2="277.56" y2="576.73" stroke="#111" stroke-width="1.5" stroke-dasharray="1.3 2.0"/>
<rect x="279.79" y="561.51" width="4.500" height="137.54" fill="#fff" stroke="#000" stroke-width="1.35"/>
<line x1="282.04" y1="696.05" x2="282.04" y2="562.51" stroke="#111" stroke-width="1.5" stroke-dasharray="1.3 2.0"/>
<rect x="284.27" y="541.25" width="4.500" height="157.80" fill="#fff" stroke="#000" stroke-width="1.35"/>
<line x1="286.52" y1="696.05" x2="286.52" y2="542.25" stroke="#111" stroke-width="1.5" stroke-dasharray="1.3 2.0"/>
<rect x="288.75" y="497.75" width="4.500" height="201.30" fill="#fff" stroke="#000" stroke-width="1.35"/>
<line x1="291.00" y1="696.05" x2="291.00" y2="498.75" stroke="#111" stroke-width="1.5" stroke-dasharray="1.3 2.0"/>
<rect x="293.26" y="557.00" width="4.500" height="142.05" fill="#fff" stroke="#000" stroke-width="1.35"/>
<line x1="295.51" y1="696.05" x2="295.51" y2="558.00" stroke="#111" stroke-width="1.5" stroke-dasharray="1.3 2.0"/>
<rect x="297.76" y="579.52" width="4.500" height="119.53" fill="#fff" stroke="#000" stroke-width="1.35"/>
<line x1="300.01" y1="696.05" x2="300.01" y2="580.52" stroke="#111" stroke-width="1.5" stroke-dasharray="1.3 2.0"/>
<rect x="302.27" y="590.72" width="4.500" height="108.33" fill="#fff" stroke="#000" stroke-width="1.35"/>
<line x1="304.52" y1="696.05" x2="304.52" y2="591.72" stroke="#111" stroke-width="1.5" stroke-dasharray="1.3 2.0"/>
<rect x="306.77" y="606.25" width="4.500" height="92.80" fill="#fff" stroke="#000" stroke-width="1.35"/>
<line x1="309.02" y1="696.05" x2="309.02" y2="607.25" stroke="#111" stroke-width="1.5" stroke-dasharray="1.3 2.0"/>
<rect x="311.28" y="616.28" width="4.500" height="82.77" fill="#fff" stroke="#000" stroke-width="1.35"/>
<line x1="313.53" y1="696.05" x2="313.53" y2="617.28" stroke="#111" stroke-width="1.5" stroke-dasharray="1.3 2.0"/>
<rect x="315.78" y="626.60" width="4.500" height="72.45" fill="#fff" stroke="#000" stroke-width="1.35"/>
<line x1="318.03" y1="696.05" x2="318.03" y2="627.60" stroke="#111" stroke-width="1.5" stroke-dasharray="1.3 2.0"/>
<rect x="320.29" y="629.78" width="4.500" height="69.27" fill="#fff" stroke="#000" stroke-width="1.35"/>
<line x1="322.54" y1="696.05" x2="322.54" y2="630.78" stroke="#111" stroke-width="1.5" stroke-dasharray="1.3 2.0"/>
<rect x="324.79" y="636.98" width="4.500" height="62.07" fill="#fff" stroke="#000" stroke-width="1.35"/>
<line x1="327.04" y1="696.05" x2="327.04" y2="637.98" stroke="#111" stroke-width="1.5" stroke-dasharray="1.3 2.0"/>
<rect x="329.30" y="643.49" width="4.500" height="55.56" fill="#fff" stroke="#000" stroke-width="1.35"/>
<line x1="331.55" y1="696.05" x2="331.55" y2="644.49" stroke="#111" stroke-width="1.5" stroke-dasharray="1.3 2.0"/>
<rect x="333.80" y="671.91" width="4.500" height="27.14" fill="#fff" stroke="#000" stroke-width="1.35"/>
<line x1="336.05" y1="696.05" x2="336.05" y2="672.91" stroke="#111" stroke-width="1.5" stroke-dasharray="1.3 2.0"/>
<rect x="338.31" y="655.37" width="4.500" height="43.68" fill="#fff" stroke="#000" stroke-width="1.35"/>
<line x1="340.56" y1="696.05" x2="340.56" y2="656.37" stroke="#111" stroke-width="1.5" stroke-dasharray="1.3 2.0"/>
<rect x="342.81" y="685.00" width="4.500" height="14.05" fill="#fff" stroke="#000" stroke-width="1.35"/>
<line x1="345.06" y1="696.05" x2="345.06" y2="686.00" stroke="#111" stroke-width="1.5" stroke-dasharray="1.3 2.0"/>
<rect x="347.32" y="685.00" width="4.500" height="14.05" fill="#fff" stroke="#000" stroke-width="1.35"/>
<line x1="349.57" y1="696.05" x2="349.57" y2="686.00" stroke="#111" stroke-width="1.5" stroke-dasharray="1.3 2.0"/>
<rect x="351.83" y="664.25" width="4.500" height="34.80" fill="#fff" stroke="#000" stroke-width="1.35"/>
<line x1="354.08" y1="696.05" x2="354.08" y2="665.25" stroke="#111" stroke-width="1.5" stroke-dasharray="1.3 2.0"/>
<rect x="356.33" y="685.00" width="4.500" height="14.05" fill="#fff" stroke="#000" stroke-width="1.35"/>
<line x1="358.58" y1="696.05" x2="358.58" y2="686.00" stroke="#111" stroke-width="1.5" stroke-dasharray="1.3 2.0"/>
<rect x="360.84" y="685.00" width="4.500" height="14.05" fill="#fff" stroke="#000" stroke-width="1.1"/>
<line x1="363.09" y1="696.05" x2="363.09" y2="686.00" stroke="#333" stroke-width="1.3" stroke-dasharray="1.3 2.0"/>
<rect x="369.85" y="685.00" width="4.500" height="14.05" fill="#fff" stroke="#000" stroke-width="1.1"/>
<line x1="372.10" y1="696.05" x2="372.10" y2="686.00" stroke="#333" stroke-width="1.3" stroke-dasharray="1.3 2.0"/>
<line x1="67.4" y1="5.5" x2="67.4" y2="698.85" stroke="#000" stroke-width="1.4"/>
<line x1="513.75" y1="5.5" x2="513.15" y2="698.85" stroke="#000" stroke-width="1.3"/>
<line x1="66.7" y1="5.3" x2="514.4" y2="5.75" stroke="#000" stroke-width="1.2"/>
<line x1="62" y1="238.6" x2="513.9499999999999" y2="238.6" stroke="#000" stroke-width="2.0"/>
<line x1="62" y1="469.75" x2="513.9499999999999" y2="469.75" stroke="#000" stroke-width="2.0"/>
<line x1="66.7" y1="698.25" x2="513.9499999999999" y2="698.25" stroke="#000" stroke-width="1.5"/>
<line x1="62" y1="224.25" x2="67.4" y2="224.25" stroke="#000" stroke-width="1"/>
<line x1="62" y1="180.50" x2="67.4" y2="180.50" stroke="#000" stroke-width="1"/>
<line x1="62" y1="136.75" x2="67.4" y2="136.75" stroke="#000" stroke-width="1"/>
<line x1="62" y1="93.00" x2="67.4" y2="93.00" stroke="#000" stroke-width="1"/>
<line x1="62" y1="49.25" x2="67.4" y2="49.25" stroke="#000" stroke-width="1"/>
<line x1="62" y1="455.20" x2="67.4" y2="455.20" stroke="#000" stroke-width="1"/>
<line x1="62" y1="412.00" x2="67.4" y2="412.00" stroke="#000" stroke-width="1"/>
<line x1="62" y1="368.80" x2="67.4" y2="368.80" stroke="#000" stroke-width="1"/>
<line x1="62" y1="325.60" x2="67.4" y2="325.60" stroke="#000" stroke-width="1"/>
<line x1="62" y1="685.00" x2="67.4" y2="685.00" stroke="#000" stroke-width="1"/>
<line x1="62" y1="641.60" x2="67.4" y2="641.60" stroke="#000" stroke-width="1"/>
<line x1="62" y1="598.20" x2="67.4" y2="598.20" stroke="#000" stroke-width="1"/>
<line x1="62" y1="554.80" x2="67.4" y2="554.80" stroke="#000" stroke-width="1"/>
<line x1="62" y1="511.40" x2="67.4" y2="511.40" stroke="#000" stroke-width="1"/>
<line x1="62" y1="5.5" x2="67.4" y2="5.5" stroke="#000" stroke-width="1"/>
<line x1="70.00" y1="698.25" x2="70.00" y2="704" stroke="#000" stroke-width="1"/>
<line x1="79.12" y1="698.25" x2="79.12" y2="704" stroke="#000" stroke-width="1"/>
<line x1="88.24" y1="698.25" x2="88.24" y2="704" stroke="#000" stroke-width="1"/>
<line x1="97.36" y1="698.25" x2="97.36" y2="704" stroke="#000" stroke-width="1"/>
<line x1="106.48" y1="698.25" x2="106.48" y2="704" stroke="#000" stroke-width="1"/>
<line x1="115.60" y1="698.25" x2="115.60" y2="704" stroke="#000" stroke-width="1"/>
<line x1="124.72" y1="698.25" x2="124.72" y2="704" stroke="#000" stroke-width="1"/>
<line x1="133.84" y1="698.25" x2="133.84" y2="704" stroke="#000" stroke-width="1"/>
<line x1="142.96" y1="698.25" x2="142.96" y2="704" stroke="#000" stroke-width="1"/>
<line x1="152.08" y1="698.25" x2="152.08" y2="704" stroke="#000" stroke-width="1"/>
<line x1="161.20" y1="698.25" x2="161.20" y2="704" stroke="#000" stroke-width="1"/>
<line x1="170.07" y1="698.25" x2="170.07" y2="704" stroke="#000" stroke-width="1"/>
<line x1="178.95" y1="698.25" x2="178.95" y2="704" stroke="#000" stroke-width="1"/>
<line x1="187.82" y1="698.25" x2="187.82" y2="704" stroke="#000" stroke-width="1"/>
<line x1="196.69" y1="698.25" x2="196.69" y2="704" stroke="#000" stroke-width="1"/>
<line x1="205.56" y1="698.25" x2="205.56" y2="704" stroke="#000" stroke-width="1"/>
<line x1="214.44" y1="698.25" x2="214.44" y2="704" stroke="#000" stroke-width="1"/>
<line x1="223.31" y1="698.25" x2="223.31" y2="704" stroke="#000" stroke-width="1"/>
<line x1="232.18" y1="698.25" x2="232.18" y2="704" stroke="#000" stroke-width="1"/>
<line x1="241.05" y1="698.25" x2="241.05" y2="704" stroke="#000" stroke-width="1"/>
<line x1="249.93" y1="698.25" x2="249.93" y2="704" stroke="#000" stroke-width="1"/>
<line x1="258.80" y1="698.25" x2="258.80" y2="704" stroke="#000" stroke-width="1"/>
<line x1="267.80" y1="698.25" x2="267.80" y2="704" stroke="#000" stroke-width="1"/>
<line x1="276.80" y1="698.25" x2="276.80" y2="704" stroke="#000" stroke-width="1"/>
<line x1="290.30" y1="698.25" x2="290.30" y2="704" stroke="#000" stroke-width="1"/>
<line x1="303.84" y1="698.25" x2="303.84" y2="704" stroke="#000" stroke-width="1"/>
<line x1="312.87" y1="698.25" x2="312.87" y2="704" stroke="#000" stroke-width="1"/>
<line x1="321.90" y1="698.25" x2="321.90" y2="704" stroke="#000" stroke-width="1"/>
<line x1="330.80" y1="698.25" x2="330.80" y2="704" stroke="#000" stroke-width="1"/>
<line x1="339.70" y1="698.25" x2="339.70" y2="704" stroke="#000" stroke-width="1"/>
<line x1="348.60" y1="698.25" x2="348.60" y2="704" stroke="#000" stroke-width="1"/>
<line x1="357.50" y1="698.25" x2="357.50" y2="704" stroke="#000" stroke-width="1"/>
<line x1="366.40" y1="698.25" x2="366.40" y2="704" stroke="#000" stroke-width="1"/>
<line x1="375.30" y1="698.25" x2="375.30" y2="704" stroke="#000" stroke-width="1"/>
<line x1="384.20" y1="698.25" x2="384.20" y2="704" stroke="#000" stroke-width="1"/>
<line x1="393.10" y1="698.25" x2="393.10" y2="704" stroke="#000" stroke-width="1"/>
<line x1="402.09" y1="698.25" x2="402.09" y2="704" stroke="#000" stroke-width="1"/>
<line x1="411.08" y1="698.25" x2="411.08" y2="704" stroke="#000" stroke-width="1"/>
<line x1="420.08" y1="698.25" x2="420.08" y2="704" stroke="#000" stroke-width="1"/>
<line x1="429.07" y1="698.25" x2="429.07" y2="704" stroke="#000" stroke-width="1"/>
<line x1="438.06" y1="698.25" x2="438.06" y2="704" stroke="#000" stroke-width="1"/>
<line x1="447.05" y1="698.25" x2="447.05" y2="704" stroke="#000" stroke-width="1"/>
<line x1="456.05" y1="698.25" x2="456.05" y2="704" stroke="#000" stroke-width="1"/>
<line x1="465.04" y1="698.25" x2="465.04" y2="704" stroke="#000" stroke-width="1"/>
<line x1="474.03" y1="698.25" x2="474.03" y2="704" stroke="#000" stroke-width="1"/>
<line x1="483.02" y1="698.25" x2="483.02" y2="704" stroke="#000" stroke-width="1"/>
<line x1="492.02" y1="698.25" x2="492.02" y2="704" stroke="#000" stroke-width="1"/>
<line x1="501.01" y1="698.25" x2="501.01" y2="704" stroke="#000" stroke-width="1"/>
<line x1="510.00" y1="698.25" x2="510.00" y2="704" stroke="#000" stroke-width="1"/>
</g>
<line x1="70" y1="732" x2="508" y2="732.6" stroke="#000" stroke-width="1.3"/>
<path d="M66.2,732 L78.5,726.4 L73.8,732 L78.5,737.5 Z" fill="#000"/>
<path d="M512.3,732.6 L500,727 L504.7,732.6 L500,738.1 Z" fill="#000"/>
<line x1="128.75" y1="135.1" x2="198.75" y2="135.1" stroke="#000" stroke-width="1.6"/>
<line x1="378" y1="135.4" x2="447.5" y2="135.4" stroke="#000" stroke-width="1.6"/>
<line x1="130" y1="355.1" x2="199.25" y2="355.1" stroke="#000" stroke-width="1.6"/>
<line x1="384.5" y1="353.8" x2="454.25" y2="353.8" stroke="#000" stroke-width="1.6"/>
<line x1="123.75" y1="585.8" x2="193.25" y2="585.8" stroke="#000" stroke-width="1.6"/>
<line x1="378" y1="585.8" x2="448" y2="585.8" stroke="#000" stroke-width="1.6"/>
<text x="131.25" y="130" font-family="Liberation Serif" font-size="16" font-weight="bold" text-anchor="start" stroke="#000" stroke-width="0.35" >Monocyte</text>
<text x="131.6" y="149.5" font-family="Liberation Serif" font-size="16" font-weight="bold" text-anchor="start" stroke="#000" stroke-width="0.35" >GM-CSF</text>
<text x="381.25" y="130.5" font-family="Liberation Serif" font-size="16" font-weight="bold" text-anchor="start" stroke="#000" stroke-width="0.35" >GM-CSF</text>
<text x="381.25" y="153.75" font-family="Liberation Serif" font-size="16" font-weight="bold" text-anchor="start" stroke="#000" stroke-width="0.35" >Monocyte</text>
<text x="131.25" y="350" font-family="Liberation Serif" font-size="16" font-weight="bold" text-anchor="start" stroke="#000" stroke-width="0.35" >Monocyte</text>
<text x="140.2" y="371.75" font-family="Liberation Serif" font-size="16" font-weight="bold" text-anchor="start" stroke="#000" stroke-width="0.35" >M-CSF</text>
<text x="394.3" y="350" font-family="Liberation Serif" font-size="16" font-weight="bold" text-anchor="start" stroke="#000" stroke-width="0.35" >M-CSF</text>
<text x="389.5" y="373" font-family="Liberation Serif" font-size="16" font-weight="bold" text-anchor="start" stroke="#000" stroke-width="0.35" >Monocyte</text>
<text x="131.25" y="583" font-family="Liberation Serif" font-size="16" font-weight="bold" text-anchor="start" stroke="#000" stroke-width="0.35" >M-CSF</text>
<text x="127.5" y="604.25" font-family="Liberation Serif" font-size="16" font-weight="bold" text-anchor="start" stroke="#000" stroke-width="0.35" >GM-CSF</text>
<text x="381.25" y="583.25" font-family="Liberation Serif" font-size="16" font-weight="bold" text-anchor="start" stroke="#000" stroke-width="0.35" >GM-CSF</text>
<text x="388.2" y="601.9" font-family="Liberation Serif" font-size="16" font-weight="bold" text-anchor="start" stroke="#000" stroke-width="0.35" >M-CSF</text>
<text x="46.25" y="7.9" font-family="Liberation Serif" font-size="10" font-weight="bold" text-anchor="end" stroke="#000" stroke-width="0.18" >100000</text>
<text x="48.75" y="50.9" font-family="Liberation Serif" font-size="10" font-weight="bold" text-anchor="end" stroke="#000" stroke-width="0.18" >10000</text>
<text x="51.25" y="94.2" font-family="Liberation Serif" font-size="10" font-weight="bold" text-anchor="end" stroke="#000" stroke-width="0.18" >1000</text>
<text x="51.9" y="139.1" font-family="Liberation Serif" font-size="10" font-weight="bold" text-anchor="end" stroke="#000" stroke-width="0.18" >100</text>
<text x="53" y="183.20000000000002" font-family="Liberation Serif" font-size="10" font-weight="bold" text-anchor="end" stroke="#000" stroke-width="0.18" >10</text>
<text x="54.5" y="227.65" font-family="Liberation Serif" font-size="10" font-weight="bold" text-anchor="end" stroke="#000" stroke-width="0.18" >1</text>
<text x="46.25" y="240.4" font-family="Liberation Serif" font-size="10" font-weight="bold" text-anchor="end" stroke="#000" stroke-width="0.18" >100000</text>
<text x="48.75" y="285.79999999999995" font-family="Liberation Serif" font-size="10" font-weight="bold" text-anchor="end" stroke="#000" stroke-width="0.18" >10000</text>
<text x="50.5" y="328.09999999999997" font-family="Liberation Serif" font-size="10" font-weight="bold" text-anchor="end" stroke="#000" stroke-width="0.18" >1000</text>
<text x="51.9" y="371.4" font-family="Liberation Serif" font-size="10" font-weight="bold" text-anchor="end" stroke="#000" stroke-width="0.18" >100</text>
<text x="54" y="414.79999999999995" font-family="Liberation Serif" font-size="10" font-weight="bold" text-anchor="end" stroke="#000" stroke-width="0.18" >10</text>
<text x="54.5" y="457.65" font-family="Liberation Serif" font-size="10" font-weight="bold" text-anchor="end" stroke="#000" stroke-width="0.18" >1</text>
<text x="46.25" y="471.9" font-family="Liberation Serif" font-size="10" font-weight="bold" text-anchor="end" stroke="#000" stroke-width="0.18" >100000</text>
<text x="47" y="513.1" font-family="Liberation Serif" font-size="10" font-weight="bold" text-anchor="end" stroke="#000" stroke-width="0.18" >10000</text>
<text x="49" y="556.6" font-family="Liberation Serif" font-size="10" font-weight="bold" text-anchor="end" stroke="#000" stroke-width="0.18" >1000</text>
<text x="51" y="600.1999999999999" font-family="Liberation Serif" font-size="10" font-weight="bold" text-anchor="end" stroke="#000" stroke-width="0.18" >100</text>
<text x="52" y="643.1" font-family="Liberation Serif" font-size="10" font-weight="bold" text-anchor="end" stroke="#000" stroke-width="0.18" >10</text>
<text x="53.25" y="687.65" font-family="Liberation Serif" font-size="10" font-weight="bold" text-anchor="end" stroke="#000" stroke-width="0.18" >1</text>
<text x="0" y="0" font-family="Liberation Serif" font-size="16" font-weight="bold" text-anchor="middle" stroke="#000" stroke-width="0.35" transform="translate(12.1,143.5) rotate(-90)">Number of tags</text>
<text x="0" y="0" font-family="Liberation Serif" font-size="16" font-weight="bold" text-anchor="middle" stroke="#000" stroke-width="0.35" transform="translate(13.5,362.25) rotate(-90)">Number of tags</text>
<text x="0" y="0" font-family="Liberation Serif" font-size="16" font-weight="bold" text-anchor="middle" stroke="#000" stroke-width="0.35" transform="translate(11.8,588.6) rotate(-90)">Number of tags</text>
<text transform="translate(70.30,717.4) scale(1.09,1)" font-family="Liberation Sans" font-size="10.2" text-anchor="middle" stroke="#000" stroke-width="0.15">50</text>
<text transform="translate(88.54,717.4) scale(1.09,1)" font-family="Liberation Sans" font-size="10.2" text-anchor="middle" stroke="#000" stroke-width="0.15">46</text>
<text transform="translate(106.78,717.4) scale(1.09,1)" font-family="Liberation Sans" font-size="10.2" text-anchor="middle" stroke="#000" stroke-width="0.15">42</text>
<text transform="translate(125.02,717.4) scale(1.09,1)" font-family="Liberation Sans" font-size="10.2" text-anchor="middle" stroke="#000" stroke-width="0.15">38</text>
<text transform="translate(143.26,717.4) scale(1.09,1)" font-family="Liberation Sans" font-size="10.2" text-anchor="middle" stroke="#000" stroke-width="0.15">34</text>
<text transform="translate(161.50,717.4) scale(1.09,1)" font-family="Liberation Sans" font-size="10.2" text-anchor="middle" stroke="#000" stroke-width="0.15">30</text>
<text transform="translate(179.25,717.4) scale(1.09,1)" font-family="Liberation Sans" font-size="10.2" text-anchor="middle" stroke="#000" stroke-width="0.15">26</text>
<text transform="translate(196.99,717.4) scale(1.09,1)" font-family="Liberation Sans" font-size="10.2" text-anchor="middle" stroke="#000" stroke-width="0.15">22</text>
<text transform="translate(214.74,717.4) scale(1.09,1)" font-family="Liberation Sans" font-size="10.2" text-anchor="middle" stroke="#000" stroke-width="0.15">18</text>
<text transform="translate(232.48,717.4) scale(1.09,1)" font-family="Liberation Sans" font-size="10.2" text-anchor="middle" stroke="#000" stroke-width="0.15">14</text>
<text transform="translate(250.23,717.4) scale(1.09,1)" font-family="Liberation Sans" font-size="10.2" text-anchor="middle" stroke="#000" stroke-width="0.15">10</text>
<text transform="translate(268.10,717.4) scale(1.09,1)" font-family="Liberation Sans" font-size="10.2" text-anchor="middle" stroke="#000" stroke-width="0.15">6</text>
<text transform="translate(59.60,717.4) scale(1.09,1)" font-family="Liberation Sans" font-size="10.2" text-anchor="middle" stroke="#000" stroke-width="0.15">&gt;</text>
<text transform="translate(290.70,717.4) scale(1.09,1)" font-family="Liberation Sans" font-size="10.2" text-anchor="middle" stroke="#000" stroke-width="0.15">1</text>
<text transform="translate(312.67,717.4) scale(1.09,1)" font-family="Liberation Sans" font-size="10.2" text-anchor="middle" stroke="#000" stroke-width="0.15">6</text>
<text transform="translate(330.60,717.4) scale(1.09,1)" font-family="Liberation Sans" font-size="10.2" text-anchor="middle" stroke="#000" stroke-width="0.15">10</text>
<text transform="translate(348.40,717.4) scale(1.09,1)" font-family="Liberation Sans" font-size="10.2" text-anchor="middle" stroke="#000" stroke-width="0.15">14</text>
<text transform="translate(366.20,717.4) scale(1.09,1)" font-family="Liberation Sans" font-size="10.2" text-anchor="middle" stroke="#000" stroke-width="0.15">18</text>
<text transform="translate(384.00,717.4) scale(1.09,1)" font-family="Liberation Sans" font-size="10.2" text-anchor="middle" stroke="#000" stroke-width="0.15">22</text>
<text transform="translate(401.89,717.4) scale(1.09,1)" font-family="Liberation Sans" font-size="10.2" text-anchor="middle" stroke="#000" stroke-width="0.15">26</text>
<text transform="translate(419.88,717.4) scale(1.09,1)" font-family="Liberation Sans" font-size="10.2" text-anchor="middle" stroke="#000" stroke-width="0.15">30</text>
<text transform="translate(437.86,717.4) scale(1.09,1)" font-family="Liberation Sans" font-size="10.2" text-anchor="middle" stroke="#000" stroke-width="0.15">34</text>
<text transform="translate(455.85,717.4) scale(1.09,1)" font-family="Liberation Sans" font-size="10.2" text-anchor="middle" stroke="#000" stroke-width="0.15">38</text>
<text transform="translate(473.83,717.4) scale(1.09,1)" font-family="Liberation Sans" font-size="10.2" text-anchor="middle" stroke="#000" stroke-width="0.15">42</text>
<text transform="translate(491.82,717.4) scale(1.09,1)" font-family="Liberation Sans" font-size="10.2" text-anchor="middle" stroke="#000" stroke-width="0.15">46</text>
<text transform="translate(507.50,717.4) scale(1.3,1)" font-family="Liberation Sans" font-size="10.2" text-anchor="middle" stroke="#000" stroke-width="0.15">5</text>
<text transform="translate(515.90,717.4) scale(1.35,1)" font-family="Liberation Sans" font-size="10.2" text-anchor="middle" stroke="#000" stroke-width="0.15">0</text>
<text transform="translate(500.60,717.4) scale(1.09,1)" font-family="Liberation Sans" font-size="10.2" text-anchor="middle" stroke="#000" stroke-width="0.15">&gt;</text>
<text x="292.2" y="750.8" font-family="Liberation Serif" font-size="15.6" font-weight="bold" text-anchor="middle" stroke="#000" stroke-width="0.35" >fold</text>
</svg>
</body></html>
